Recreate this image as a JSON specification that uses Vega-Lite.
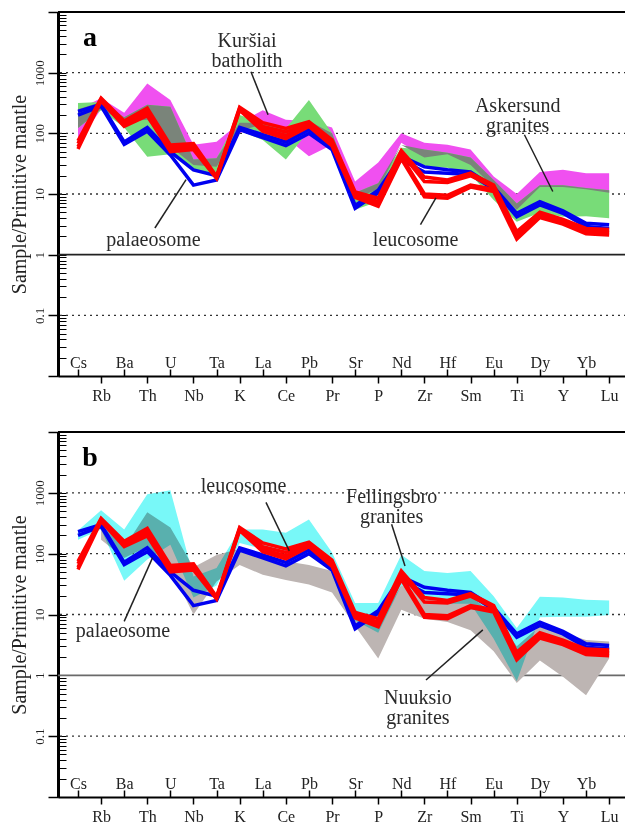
{
  "$schema": "https://vega.github.io/schema/vega-lite/v6.json",
  "padding": {"left": 8, "top": 11, "right": 0, "bottom": 0},
  "spacing": 27,
  "config": {"view": {"stroke": null}, "axis": {"grid": false}},
  "resolve": {"scale": {"x": "independent", "y": "independent"}},
  "datasets": {
    "ln": [
      {"i":0,"el":"Cs","P1":230,"P2":200,"L1":75,"L2":68,"L3":60,"L4":55},
      {"i":1,"el":"Rb","P1":300,"P2":280,"L1":380,"L2":370,"L3":360,"L4":340},
      {"i":2,"el":"Ba","P1":72,"P2":66,"L1":160,"L2":150,"L3":140,"L4":130},
      {"i":3,"el":"Th","P1":125,"P2":108,"L1":260,"L2":240,"L3":215,"L4":195},
      {"i":4,"el":"U","P1":50,"P2":44,"L1":64,"L2":58,"L3":54,"L4":50},
      {"i":5,"el":"Nb","P1":25,"P2":14,"L1":68,"L2":63,"L3":58,"L4":54},
      {"i":6,"el":"Ta","P1":20,"P2":17,"L1":19.5,"L2":19,"L3":18.5,"L4":18},
      {"i":7,"el":"K","P1":125,"P2":115,"L1":270,"L2":260,"L3":250,"L4":240},
      {"i":8,"el":"La","P1":95,"P2":85,"L1":150,"L2":130,"L3":118,"L4":108},
      {"i":9,"el":"Ce","P1":72,"P2":63,"L1":120,"L2":105,"L3":92,"L4":82},
      {"i":10,"el":"Pb","P1":115,"P2":100,"L1":155,"L2":145,"L3":138,"L4":130},
      {"i":11,"el":"Pr","P1":60,"P2":54,"L1":78,"L2":72,"L3":66,"L4":62},
      {"i":12,"el":"Sr","P1":6.5,"P2":5.8,"L1":10.8,"L2":10,"L3":9.3,"L4":8.8},
      {"i":13,"el":"P","P1":11.5,"P2":10.5,"L1":8.5,"L2":7.5,"L3":7,"L4":6.3},
      {"i":14,"el":"Nd","P1":42,"P2":37,"L1":52,"L2":47,"L3":42,"L4":38},
      {"i":15,"el":"Zr","P1":28,"P2":23,"L1":19,"L2":16,"L3":10,"L4":9},
      {"i":16,"el":"Hf","P1":25,"P2":22,"L1":17,"L2":15.5,"L3":9.5,"L4":8.5},
      {"i":17,"el":"Sm","P1":23,"P2":21,"L1":22,"L2":20,"L3":14,"L4":13},
      {"i":18,"el":"Eu","P1":13,"P2":12,"L1":14,"L2":13,"L3":12,"L4":11},
      {"i":19,"el":"Ti","P1":4.8,"P2":4.2,"L1":2.4,"L2":2.2,"L3":2.0,"L4":1.8},
      {"i":20,"el":"Dy","P1":7.5,"P2":6.6,"L1":5.0,"L2":4.7,"L3":4.4,"L4":4.1},
      {"i":21,"el":"Y","P1":5.3,"P2":4.8,"L1":3.8,"L2":3.6,"L3":3.4,"L4":3.2},
      {"i":22,"el":"Yb","P1":3.3,"P2":2.9,"L1":2.7,"L2":2.5,"L3":2.4,"L4":2.2},
      {"i":23,"el":"Lu","P1":3.1,"P2":2.7,"L1":2.6,"L2":2.4,"L3":2.3,"L4":2.1}
    ],
    "fa": [
      {"i":0,"el":"Cs","mh":250,"ml":70,"gh":316,"gl":123,"oh":250,"ol":123},
      {"i":1,"el":"Rb","mh":380,"ml":250,"gh":330,"gl":240,"oh":330,"ol":250},
      {"i":2,"el":"Ba","mh":218,"ml":155,"gh":185,"gl":125,"oh":185,"ol":155},
      {"i":3,"el":"Th","mh":660,"ml":167,"gh":295,"gl":41,"oh":295,"ol":167},
      {"i":4,"el":"U","mh":355,"ml":60,"gh":275,"gl":45,"oh":275,"ol":60},
      {"i":5,"el":"Nb","mh":65,"ml":30,"gh":37,"gl":25,"oh":37,"ol":30},
      {"i":6,"el":"Ta","mh":73,"ml":28,"gh":39,"gl":20,"oh":39,"ol":28},
      {"i":7,"el":"K","mh":150,"ml":100,"gh":200,"gl":110,"oh":150,"ol":110},
      {"i":8,"el":"La","mh":240,"ml":140,"gh":150,"gl":78,"oh":150,"ol":140},
      {"i":9,"el":"Ce","mh":167,"ml":85,"gh":120,"gl":37,"oh":120,"ol":85},
      {"i":10,"el":"Pb","mh":160,"ml":42,"gh":355,"gl":110,"oh":160,"ol":110},
      {"i":11,"el":"Pr","mh":125,"ml":65,"gh":100,"gl":60,"oh":100,"ol":65},
      {"i":12,"el":"Sr","mh":16,"ml":8.5,"gh":10.5,"gl":5.5,"oh":10.5,"ol":8.5},
      {"i":13,"el":"P","mh":33,"ml":12,"gh":15,"gl":7.5,"oh":15,"ol":12},
      {"i":14,"el":"Nd","mh":100,"ml":70,"gh":58,"gl":35,"oh":64,"ol":64},
      {"i":15,"el":"Zr","mh":70,"ml":40,"gh":54,"gl":28,"oh":54,"ol":40},
      {"i":16,"el":"Hf","mh":65,"ml":45,"gh":48,"gl":27,"oh":48,"ol":45},
      {"i":17,"el":"Sm","mh":54,"ml":30,"gh":40,"gl":21,"oh":40,"ol":30},
      {"i":18,"el":"Eu","mh":19.5,"ml":13,"gh":17,"gl":8,"oh":17,"ol":13},
      {"i":19,"el":"Ti","mh":10,"ml":5.5,"gh":7,"gl":3.5,"oh":7,"ol":5.5},
      {"i":20,"el":"Dy","mh":23,"ml":13,"gh":14,"gl":4.9,"oh":14,"ol":13},
      {"i":21,"el":"Y","mh":25,"ml":13,"gh":14,"gl":4.2,"oh":14,"ol":13},
      {"i":22,"el":"Yb","mh":22,"ml":12,"gh":12.5,"gl":4.3,"oh":12.5,"ol":12},
      {"i":23,"el":"Lu","mh":22,"ml":10.5,"gh":11.5,"gl":4,"oh":11.5,"ol":10.5}
    ],
    "fb": [
      {"i":0,"el":"Cs","fh":240,"fl":170,"nh":null,"nl":null},
      {"i":1,"el":"Rb","fh":515,"fl":250,"nh":300,"nl":170},
      {"i":2,"el":"Ba","fh":250,"fl":36,"nh":125,"nl":85},
      {"i":3,"el":"Th","fh":950,"fl":80,"nh":480,"nl":130},
      {"i":4,"el":"U","fh":1100,"fl":140,"nh":270,"nl":58},
      {"i":5,"el":"Nb","fh":42,"fl":19,"nh":60,"nl":10},
      {"i":6,"el":"Ta","fh":58,"fl":30,"nh":95,"nl":35},
      {"i":7,"el":"K","fh":250,"fl":150,"nh":120,"nl":65},
      {"i":8,"el":"La","fh":250,"fl":120,"nh":95,"nl":45},
      {"i":9,"el":"Ce","fh":220,"fl":85,"nh":75,"nl":37},
      {"i":10,"el":"Pb","fh":365,"fl":100,"nh":65,"nl":31},
      {"i":11,"el":"Pr","fh":105,"fl":50,"nh":52,"nl":23},
      {"i":12,"el":"Sr","fh":15.5,"fl":8,"nh":12,"nl":6.5},
      {"i":13,"el":"P","fh":15.5,"fl":5,"nh":7,"nl":1.9},
      {"i":14,"el":"Nd","fh":96,"fl":30,"nh":30,"nl":12},
      {"i":15,"el":"Zr","fh":52,"fl":20,"nh":20,"nl":8.5},
      {"i":16,"el":"Hf","fh":48,"fl":15,"nh":15,"nl":7.5},
      {"i":17,"el":"Sm","fh":52,"fl":15,"nh":20,"nl":5.5},
      {"i":18,"el":"Eu","fh":20,"fl":4,"nh":10,"nl":2.5},
      {"i":19,"el":"Ti","fh":6,"fl":0.8,"nh":3,"nl":0.75},
      {"i":20,"el":"Dy","fh":19.5,"fl":9,"nh":6.5,"nl":1.75},
      {"i":21,"el":"Y","fh":19,"fl":9.2,"nh":5,"nl":0.95},
      {"i":22,"el":"Yb","fh":17.5,"fl":9.2,"nh":3.8,"nl":0.47},
      {"i":23,"el":"Lu","fh":17,"fl":9.8,"nh":3.6,"nl":1.9}
    ],
    "ta": [
      {"t":"Kuršiai\nbatholith","i":7.32,"v":2690},
      {"t":"Askersund\ngranites","i":19.04,"v":222},
      {"t":"palaeosome","i":3.27,"v":1.41},
      {"t":"leucosome","i":14.62,"v":1.37}
    ],
    "tb": [
      {"t":"leucosome","i":7.17,"v":1047},
      {"t":"palaeosome","i":1.95,"v":4.2},
      {"t":"Fellingsbro\ngranites","i":13.58,"v":675},
      {"t":"Nuuksio\ngranites","i":14.72,"v":0.335}
    ],
    "pa": [{"t":"a","i":0.52,"v":2700}],
    "pb": [{"t":"b","i":0.52,"v":2710}],
    "la": [
      {"i":7.49,"v":1035,"i2":8.23,"v2":202},
      {"i":19.33,"v":94.8,"i2":20.56,"v2":11.0},
      {"i":3.33,"v":2.75,"i2":4.68,"v2":17.2},
      {"i":14.83,"v":3.12,"i2":15.5,"v2":8.6}
    ],
    "lb": [
      {"i":8.14,"v":697,"i2":9.15,"v2":111},
      {"i":2.0,"v":7.7,"i2":3.23,"v2":86},
      {"i":13.58,"v":305,"i2":14.16,"v2":62.7},
      {"i":15.07,"v":0.84,"i2":17.53,"v2":5.6}
    ],
    "grid": [{"v":1000},{"v":100},{"v":10},{"v":0.1}],
    "one": [{"v":1}],
    "top": [{"v":10000}]
  },
  "vconcat": [
    {
      "width": 568, "height": 364,
      "resolve": {"axis": {"x": "independent", "y": "independent"}},
      "layer": [
        {"data": {"name": "grid"}, "mark": {"type": "rule", "color": "#333", "strokeDash": [2, 4], "strokeWidth": 1.3},
         "encoding": {"y": {"field": "v", "type": "quantitative", "scale": {"type": "log", "domain": [0.01, 10000], "nice": false}, "axis": null}}},
        {"data": {"name": "one"}, "mark": {"type": "rule", "color": "#222", "strokeWidth": 1.6},
         "encoding": {"y": {"field": "v", "type": "quantitative", "axis": null}}},
        {"data": {"name": "top"}, "mark": {"type": "rule", "color": "#000", "strokeWidth": 2},
         "encoding": {"y": {"field": "v", "type": "quantitative", "axis": null}}},
        {"data": {"name": "fa"}, "mark": {"type": "area", "color": "#f050f0", "opacity": 1},
         "encoding": {
           "x": {"field": "i", "type": "quantitative", "scale": {"domain": [-0.866, 23.73], "nice": false, "zero": false},
                 "axis": {"orient": "bottom", "values": [0,2,4,6,8,10,12,14,16,18,20,22], "labelExpr": "['Cs','Rb','Ba','Th','U','Nb','Ta','K','La','Ce','Pb','Pr','Sr','P','Nd','Zr','Hf','Sm','Eu','Ti','Dy','Y','Yb','Lu'][datum.value]", "tickSize": -7, "tickColor": "#000", "tickWidth": 1.5, "labelPadding": -2, "labelBaseline": "alphabetic", "labelAlign": "center", "labelFont": "Liberation Serif", "labelFontSize": 16, "labelColor": "#222", "domain": true, "domainColor": "#000", "domainWidth": 2, "grid": false, "title": null, "labelFlush": false, "labelOverlap": false}},
           "y": {"field": "mh", "type": "quantitative",
                 "axis": {"orient": "left", "values": [0.01,0.02,0.03,0.04,0.05,0.06,0.07,0.08,0.09,0.1,0.2,0.3,0.4,0.5,0.6,0.7,0.8,0.9,1,2,3,4,5,6,7,8,9,10,20,30,40,50,60,70,80,90,100,200,300,400,500,600,700,800,900,1000,2000,3000,4000,5000,6000,7000,8000,9000,10000], "labelExpr": "datum.value==0.1?'0.1':datum.value==1?'1':datum.value==10?'10':datum.value==100?'100':datum.value==1000?'1000':''", "tickSize": -8, "tickColor": "#000", "tickWidth": 1, "labelAngle": -90, "labelAlign": "center", "labelBaseline": "bottom", "labelPadding": 20, "labelFont": "Liberation Serif", "labelFontSize": 13, "labelColor": "#222", "labelOverlap": false, "labelFlush": false, "domainColor": "#000", "domainWidth": 3, "grid": false, "title": "Sample/Primitive mantle", "titleFont": "Liberation Serif", "titleFontSize": 20, "titleFontWeight": "normal", "titleColor": "#222", "titlePadding": 4}},
           "y2": {"field": "ml"}
         }},
        {"data": {"name": "fa"}, "mark": {"type": "area", "color": "#78dc78", "opacity": 1},
         "encoding": {
           "x": {"field": "i", "type": "quantitative",
                 "axis": {"orient": "bottom", "values": [1,3,5,7,9,11,13,15,17,19,21,23], "labelExpr": "['Cs','Rb','Ba','Th','U','Nb','Ta','K','La','Ce','Pb','Pr','Sr','P','Nd','Zr','Hf','Sm','Eu','Ti','Dy','Y','Yb','Lu'][datum.value]", "tickSize": 7, "tickColor": "#000", "tickWidth": 1.5, "labelPadding": 17.7, "labelBaseline": "alphabetic", "labelAlign": "center", "labelFont": "Liberation Serif", "labelFontSize": 16, "labelColor": "#222", "domain": false, "grid": false, "title": null, "labelFlush": false, "labelOverlap": false}},
           "y": {"field": "gh", "type": "quantitative",
                 "axis": {"orient": "left", "values": [0.01,0.1,1,10,100,1000,10000], "tickSize": 10, "tickColor": "#000", "tickWidth": 1.5, "labels": false, "domain": false, "grid": false, "title": null}},
           "y2": {"field": "gl"}
         }},
        {"data": {"name": "fa"}, "mark": {"type": "area", "color": "#7a847a", "opacity": 1},
         "encoding": {"x": {"field": "i", "type": "quantitative", "axis": null}, "y": {"field": "oh", "type": "quantitative", "axis": null}, "y2": {"field": "ol"}}},
        {"data": {"name": "ln"}, "transform": [{"fold": ["P1", "P2"], "as": ["s", "v"]}],
         "mark": {"type": "line", "color": "#0000f0", "strokeWidth": 3.5},
         "encoding": {"x": {"field": "i", "type": "quantitative", "axis": null}, "y": {"field": "v", "type": "quantitative", "axis": null}, "detail": {"field": "s"}}},
        {"data": {"name": "ln"}, "transform": [{"fold": ["L1", "L2", "L3", "L4"], "as": ["s", "v"]}],
         "mark": {"type": "line", "color": "#ff0000", "strokeWidth": 3.5},
         "encoding": {"x": {"field": "i", "type": "quantitative", "axis": null}, "y": {"field": "v", "type": "quantitative", "axis": null}, "detail": {"field": "s"}}},
        {"data": {"name": "la"}, "mark": {"type": "rule", "color": "#222", "strokeWidth": 1.5},
         "encoding": {"x": {"field": "i", "type": "quantitative", "axis": null}, "y": {"field": "v", "type": "quantitative", "axis": null}, "x2": {"field": "i2"}, "y2": {"field": "v2"}}},
        {"data": {"name": "ta"}, "mark": {"type": "text", "font": "Liberation Serif", "fontSize": 20, "color": "#2a2a2a", "align": "center", "baseline": "alphabetic", "lineBreak": "\n", "lineHeight": 20},
         "encoding": {"x": {"field": "i", "type": "quantitative", "axis": null}, "y": {"field": "v", "type": "quantitative", "axis": null}, "text": {"field": "t"}}},
        {"data": {"name": "pa"}, "mark": {"type": "text", "font": "Liberation Serif", "fontSize": 28, "fontWeight": "bold", "color": "#000", "align": "center", "baseline": "alphabetic"},
         "encoding": {"x": {"field": "i", "type": "quantitative", "axis": null}, "y": {"field": "v", "type": "quantitative", "axis": null}, "text": {"field": "t"}}}
      ]
    },
    {
      "width": 568, "height": 365,
      "resolve": {"axis": {"x": "independent", "y": "independent"}},
      "layer": [
        {"data": {"name": "grid"}, "mark": {"type": "rule", "color": "#333", "strokeDash": [2, 4], "strokeWidth": 1.3},
         "encoding": {"y": {"field": "v", "type": "quantitative", "scale": {"type": "log", "domain": [0.01, 10000], "nice": false}, "axis": null}}},
        {"data": {"name": "one"}, "mark": {"type": "rule", "color": "#6a6a6a", "strokeWidth": 1.6},
         "encoding": {"y": {"field": "v", "type": "quantitative", "axis": null}}},
        {"data": {"name": "top"}, "mark": {"type": "rule", "color": "#000", "strokeWidth": 2},
         "encoding": {"y": {"field": "v", "type": "quantitative", "axis": null}}},
        {"data": {"name": "fb"}, "mark": {"type": "area", "color": "#bdb5b3", "opacity": 1},
         "encoding": {
           "x": {"field": "i", "type": "quantitative", "scale": {"domain": [-0.866, 23.73], "nice": false, "zero": false},
                 "axis": {"orient": "bottom", "values": [0,2,4,6,8,10,12,14,16,18,20,22], "labelExpr": "['Cs','Rb','Ba','Th','U','Nb','Ta','K','La','Ce','Pb','Pr','Sr','P','Nd','Zr','Hf','Sm','Eu','Ti','Dy','Y','Yb','Lu'][datum.value]", "tickSize": -7, "tickColor": "#000", "tickWidth": 1.5, "labelPadding": -2, "labelBaseline": "alphabetic", "labelAlign": "center", "labelFont": "Liberation Serif", "labelFontSize": 16, "labelColor": "#222", "domain": true, "domainColor": "#000", "domainWidth": 2, "grid": false, "title": null, "labelFlush": false, "labelOverlap": false}},
           "y": {"field": "nh", "type": "quantitative",
                 "axis": {"orient": "left", "values": [0.01,0.02,0.03,0.04,0.05,0.06,0.07,0.08,0.09,0.1,0.2,0.3,0.4,0.5,0.6,0.7,0.8,0.9,1,2,3,4,5,6,7,8,9,10,20,30,40,50,60,70,80,90,100,200,300,400,500,600,700,800,900,1000,2000,3000,4000,5000,6000,7000,8000,9000,10000], "labelExpr": "datum.value==0.1?'0.1':datum.value==1?'1':datum.value==10?'10':datum.value==100?'100':datum.value==1000?'1000':''", "tickSize": -8, "tickColor": "#000", "tickWidth": 1, "labelAngle": -90, "labelAlign": "center", "labelBaseline": "bottom", "labelPadding": 20, "labelFont": "Liberation Serif", "labelFontSize": 13, "labelColor": "#222", "labelOverlap": false, "labelFlush": false, "domainColor": "#000", "domainWidth": 3, "grid": false, "title": "Sample/Primitive mantle", "titleFont": "Liberation Serif", "titleFontSize": 20, "titleFontWeight": "normal", "titleColor": "#222", "titlePadding": 4}},
           "y2": {"field": "nl"}
         }},
        {"data": {"name": "fb"}, "mark": {"type": "area", "color": "#78f8f8", "opacity": 1, "blend": "multiply"},
         "encoding": {
           "x": {"field": "i", "type": "quantitative",
                 "axis": {"orient": "bottom", "values": [1,3,5,7,9,11,13,15,17,19,21,23], "labelExpr": "['Cs','Rb','Ba','Th','U','Nb','Ta','K','La','Ce','Pb','Pr','Sr','P','Nd','Zr','Hf','Sm','Eu','Ti','Dy','Y','Yb','Lu'][datum.value]", "tickSize": 7, "tickColor": "#000", "tickWidth": 1.5, "labelPadding": 17.7, "labelBaseline": "alphabetic", "labelAlign": "center", "labelFont": "Liberation Serif", "labelFontSize": 16, "labelColor": "#222", "domain": false, "grid": false, "title": null, "labelFlush": false, "labelOverlap": false}},
           "y": {"field": "fh", "type": "quantitative",
                 "axis": {"orient": "left", "values": [0.01,0.1,1,10,100,1000,10000], "tickSize": 10, "tickColor": "#000", "tickWidth": 1.5, "labels": false, "domain": false, "grid": false, "title": null}},
           "y2": {"field": "fl"}
         }},
        {"data": {"name": "ln"}, "transform": [{"fold": ["P1", "P2"], "as": ["s", "v"]}],
         "mark": {"type": "line", "color": "#0000f0", "strokeWidth": 3.5},
         "encoding": {"x": {"field": "i", "type": "quantitative", "axis": null}, "y": {"field": "v", "type": "quantitative", "axis": null}, "detail": {"field": "s"}}},
        {"data": {"name": "ln"}, "transform": [{"fold": ["L1", "L2", "L3", "L4"], "as": ["s", "v"]}],
         "mark": {"type": "line", "color": "#ff0000", "strokeWidth": 3.5},
         "encoding": {"x": {"field": "i", "type": "quantitative", "axis": null}, "y": {"field": "v", "type": "quantitative", "axis": null}, "detail": {"field": "s"}}},
        {"data": {"name": "lb"}, "mark": {"type": "rule", "color": "#222", "strokeWidth": 1.5},
         "encoding": {"x": {"field": "i", "type": "quantitative", "axis": null}, "y": {"field": "v", "type": "quantitative", "axis": null}, "x2": {"field": "i2"}, "y2": {"field": "v2"}}},
        {"data": {"name": "tb"}, "mark": {"type": "text", "font": "Liberation Serif", "fontSize": 20, "color": "#2a2a2a", "align": "center", "baseline": "alphabetic", "lineBreak": "\n", "lineHeight": 20},
         "encoding": {"x": {"field": "i", "type": "quantitative", "axis": null}, "y": {"field": "v", "type": "quantitative", "axis": null}, "text": {"field": "t"}}},
        {"data": {"name": "pb"}, "mark": {"type": "text", "font": "Liberation Serif", "fontSize": 28, "fontWeight": "bold", "color": "#000", "align": "center", "baseline": "alphabetic"},
         "encoding": {"x": {"field": "i", "type": "quantitative", "axis": null}, "y": {"field": "v", "type": "quantitative", "axis": null}, "text": {"field": "t"}}}
      ]
    }
  ]
}
